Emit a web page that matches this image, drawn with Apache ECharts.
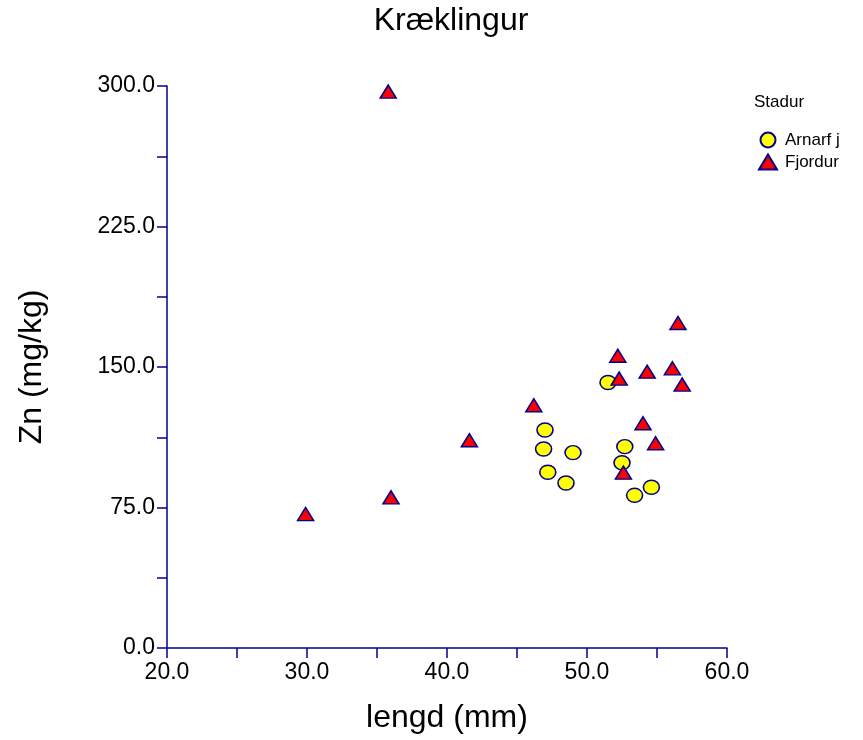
<!DOCTYPE html>
<html style="height: 100%">
  <head>
     <meta charset="utf-8">
  </head>
  <body style="height: 100%; margin: 0; background: #fff">
     <div id="container" style="width: 863px; height: 740px"></div>
     <script type="text/javascript" src="https://cdn.jsdelivr.net/npm/echarts@6/dist/echarts.min.js"></script>
     <script type="text/javascript">
// lengd (mm), Zn (mg/kg)
var arnarfjLengd = [51.5, 47.0, 46.9, 49.0, 52.7, 52.5, 47.2, 48.5, 54.6, 53.4];
var arnarfjZn    = [141.7, 116.4, 106.2, 104.3, 107.5, 98.9, 93.8, 88.1, 85.8, 81.5];
var fjordurLengd = [56.5, 52.2, 54.3, 56.1, 52.3, 56.8, 46.2, 54.0, 54.9, 52.6, 41.6, 36.0, 29.9, 35.8];
var fjordurZn    = [173.5, 156.0, 147.5, 149.3, 143.8, 140.6, 129.6, 120.0, 109.3, 93.6, 110.9, 80.4, 71.5, 297.0];

var navy = '#00008B';
var font = '"Liberation Sans", Arial, sans-serif';

function pairs(xs, ys) {
  return xs.map(function (x, i) { return [x, ys[i]]; });
}

var dom = document.getElementById("container");
var myChart = echarts.init(dom);

var option = {
  backgroundColor: '#fff',
  animation: false,
  title: [{
    text: 'Kræklingur',
    left: 446,
    textAlign: 'center',
    top: 0,
    textStyle: { fontFamily: font, fontWeight: 'normal', fontSize: 32, color: '#000' }
  }, {
    text: 'Stadur',
    left: 749,
    top: 89,
    textStyle: { fontFamily: font, fontWeight: 'normal', fontSize: 17, color: '#000' }
  }],
  legend: {
    orient: 'vertical',
    left: 753,
    top: 126,
    itemGap: 4,
    itemWidth: 18,
    itemHeight: 15,
    textStyle: { fontFamily: font, fontSize: 17, lineHeight: 18, color: '#000', padding: [0, 0, 0, 3] },
    data: ['Arnarf j', 'Fjordur']
  },
  grid: { left: 167, right: 136, top: 86, bottom: 92 },
  xAxis: {
    type: 'value',
    min: 20,
    max: 60,
    interval: 10,
    name: 'lengd (mm)',
    nameLocation: 'middle',
    nameGap: 54,
    nameTextStyle: { fontFamily: font, fontSize: 32, color: '#000' },
    axisLine: { lineStyle: { color: navy, width: 1.5 } },
    axisTick: { length: 10, lineStyle: { color: navy, width: 1.5 } },
    minorTick: { show: true, splitNumber: 2, length: 10, lineStyle: { color: navy, width: 1.5 } },
    splitLine: { show: false },
    axisLabel: {
      fontFamily: font, fontSize: 23, color: '#000', margin: 13,
      formatter: function (v) { return v.toFixed(1); }
    }
  },
  yAxis: {
    type: 'value',
    min: 0,
    max: 300,
    interval: 75,
    name: 'Zn (mg/kg)',
    nameLocation: 'middle',
    nameGap: 119,
    nameTextStyle: { fontFamily: font, fontSize: 32, color: '#000' },
    axisLine: { lineStyle: { color: navy, width: 1.5 } },
    axisTick: { length: 10, lineStyle: { color: navy, width: 1.5 } },
    minorTick: { show: true, splitNumber: 2, length: 10, lineStyle: { color: navy, width: 1.5 } },
    splitLine: { show: false },
    axisLabel: {
      fontFamily: font, fontSize: 23, color: '#000', margin: 12,
      formatter: function (v) { return v.toFixed(1); }
    }
  },
  series: [{
    name: 'Arnarf j',
    type: 'scatter',
    symbol: 'circle',
    symbolSize: [16, 14],
    itemStyle: { color: '#FFFF00', borderColor: navy, borderWidth: 1.5, opacity: 1 },
    data: pairs(arnarfjLengd, arnarfjZn)
  }, {
    name: 'Fjordur',
    type: 'scatter',
    symbol: 'triangle',
    symbolSize: [16, 13],
    itemStyle: { color: '#FF0000', borderColor: navy, borderWidth: 1.5, opacity: 1 },
    data: pairs(fjordurLengd, fjordurZn)
  }]
};

myChart.setOption(option, true);
     </script>
  </body>
</html>
